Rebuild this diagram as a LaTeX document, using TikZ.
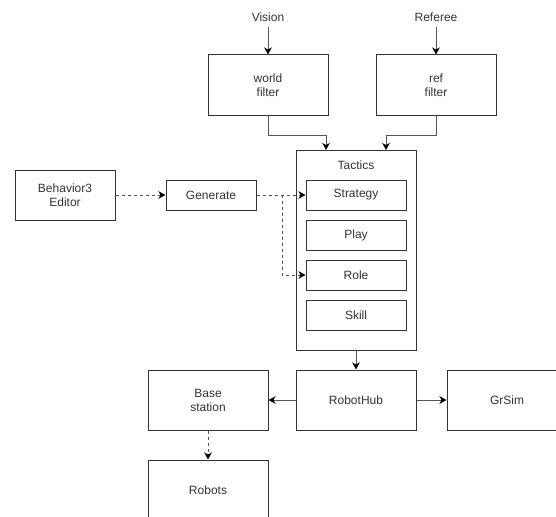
\documentclass[tikz,border=0pt]{standalone}
\usepackage{fontspec}
\setmainfont{Liberation Sans}
\usetikzlibrary{arrows.meta}
\definecolor{boxline}{HTML}{333333}
\definecolor{conn}{HTML}{555555}
\definecolor{txt}{HTML}{333333}
\begin{document}
\begin{tikzpicture}[x=1pt,y=-1pt,
  box/.style={draw=boxline,line width=1pt,fill=white,inner sep=0pt,align=center,
    font=\fontsize{12pt}{14pt}\selectfont,text=txt},
  lbl/.style={inner sep=0pt,font=\fontsize{12pt}{14pt}\selectfont,text=txt},
  conn/.style={draw=conn,line width=1pt,-{Stealth[length=7pt,width=7.5pt,inset=2pt,color=black]}},
  dconn/.style={conn,dash pattern=on 3pt off 3pt}]
\useasboundingbox (0,0) rectangle (556,516);
\clip (0,0) rectangle (556,516);
% top inputs
\node[lbl] (vision) at (268,17) {Vision};
\node[lbl] (referee) at (436,17) {Referee};
\node[box,minimum width=120pt,minimum height=60pt] (world) at (268,85) {world\\filter};
\node[box,minimum width=120pt,minimum height=60pt] (ref) at (436,85) {ref\\filter};
% tactics
\node[box,minimum width=120pt,minimum height=200pt] (tactics) at (356,250) {};
\node[lbl] (tlabel) at (356,165) {Tactics};
\node[box,minimum width=100pt,minimum height=30pt] (strategy) at (356,195) {Strategy};
\node[box,minimum width=100pt,minimum height=30pt] (play) at (356,235) {Play};
\node[box,minimum width=100pt,minimum height=30pt] (role) at (356,275) {Role};
\node[box,minimum width=100pt,minimum height=30pt] (skill) at (356,315) {Skill};
% left
\node[box,minimum width=100pt,minimum height=50pt] (beh) at (65,195) {Behavior3\\Editor};
\node[box,minimum width=90pt,minimum height=30pt] (gen) at (211,195) {Generate};
% bottom
\node[box,minimum width=120pt,minimum height=60pt] (hub) at (356,400) {RobotHub};
\node[box,minimum width=120pt,minimum height=60pt] (base) at (208,400) {Base\\station};
\node[box,minimum width=120pt,minimum height=60pt] (grsim) at (507,400) {GrSim};
\node[box,minimum width=120pt,minimum height=60pt] (robots) at (208,490) {Robots};
\coordinate (wentry) at (326,150);
\coordinate (rentry) at (386,150);
\coordinate (branch) at (282,195);
% connectors
\draw[conn] ([yshift=-5pt]vision.south) -- (world.north);
\draw[conn] ([yshift=-5pt]referee.south) -- (ref.north);
\draw[conn] (world.south) |- (268,135) -| (wentry);
\draw[conn] (ref.south) |- (436,135) -| (rentry);
\draw[dconn] (beh.east) -- (gen.west);
\draw[dconn] (gen.east) -- (strategy.west);
\draw[dconn] (branch) |- (role.west);
\draw[conn] (tactics.south) -- (hub.north);
\draw[conn] (hub.west) -- (base.east);
\draw[conn] (hub.east) -- (grsim.west);
\draw[dconn] (base.south) -- (robots.north);
\end{tikzpicture}
\end{document}
